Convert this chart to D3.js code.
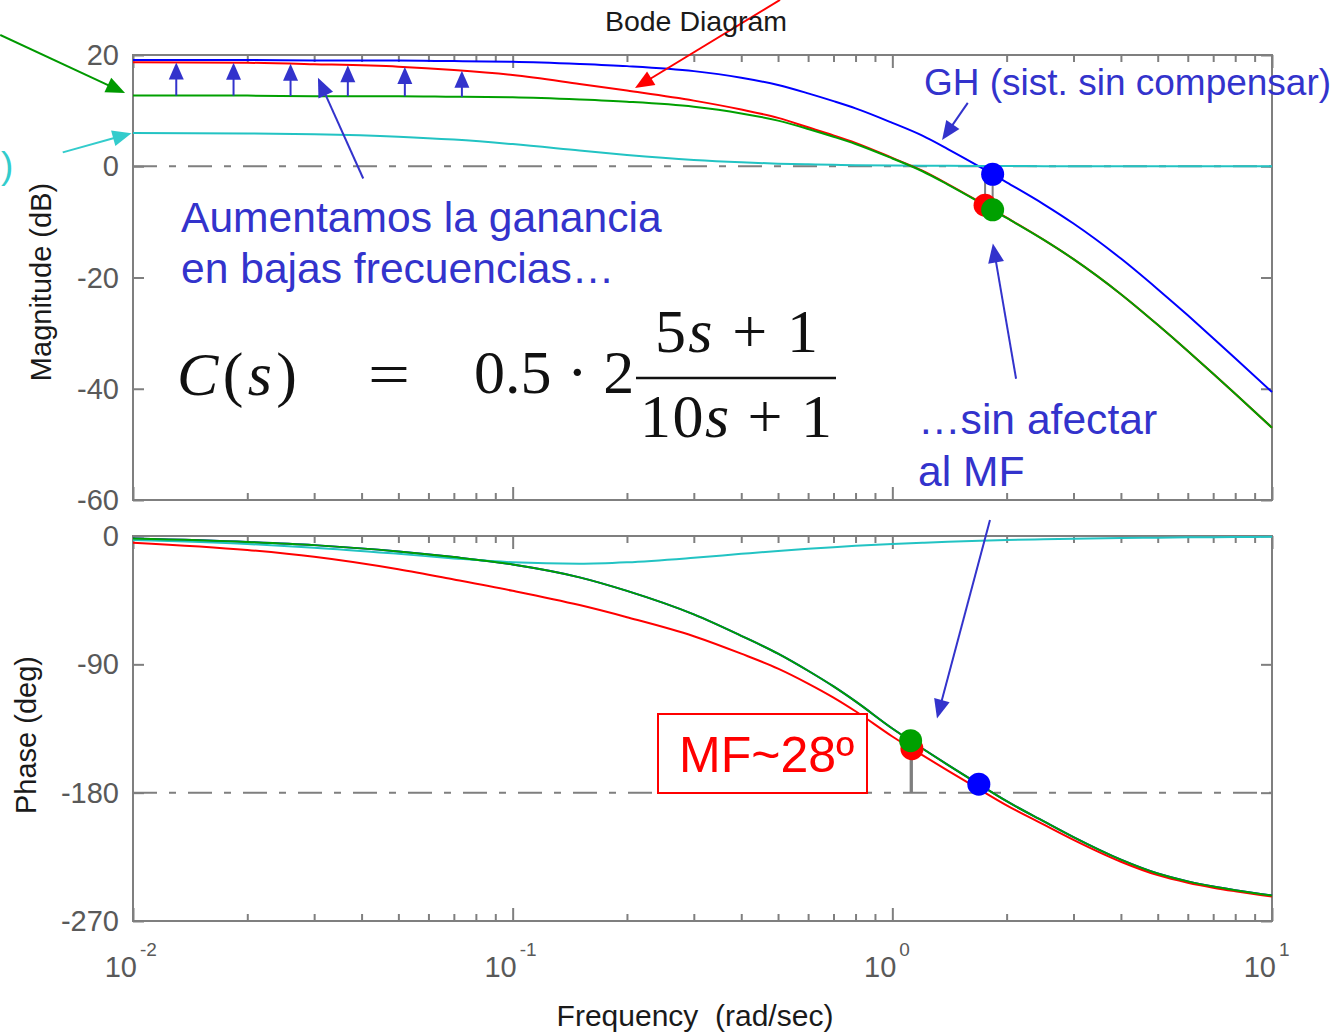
<!DOCTYPE html>
<html>
<head>
<meta charset="utf-8">
<script src="https://cdn.jsdelivr.net/npm/d3@7"></script>
<style>
  html, body { margin: 0; padding: 0; background: #fff; }
  svg { display: block; }
  text { font-family: "Liberation Sans", Arial, Helvetica, sans-serif; }
  .tex { font-family: "Liberation Serif", "Times New Roman", serif; }
</style>
</head>
<body>
<svg id="chart" width="1330" height="1032"></svg>
<script>
// ---- Frequency grid (rad/sec) ----
const freq = [0.01, 0.02, 0.03, 0.05, 0.07, 0.1, 0.15, 0.2, 0.3, 0.4, 0.5, 0.6, 0.7, 0.8,
              1.0, 1.2, 1.4, 1.7, 2.0, 2.5, 3, 4, 5, 6, 7, 8, 10];

// ---- Magnitude (dB) ----
// GH: uncompensated loop
const magGH = [19.1, 19.1, 19.0, 19.0, 18.9, 18.8, 18.4, 18.0, 17.1, 15.9, 14.6, 13.1, 11.7, 10.4,
               7.8, 5.5, 3.1, -0.1, -2.9, -6.8, -10.3, -16.6, -22.1, -26.8, -30.9, -34.5, -40.6];
// 0.5·GH
const magGHhalf = [12.7, 12.7, 12.6, 12.6, 12.5, 12.4, 12.0, 11.6, 10.7, 9.5, 8.2, 6.7, 5.3, 4.0,
                   1.4, -0.9, -3.3, -6.5, -9.3, -13.2, -16.7, -23.0, -28.5, -33.2, -37.3, -40.9, -47.0];
// lag network 2(5s+1)/(10s+1)
const magLag = [5.99, 5.89, 5.75, 5.31, 4.79, 3.98, 2.84, 2.04, 1.14, 0.71, 0.47, 0.34, 0.25, 0.19,
                0.13, 0.09, 0.07, 0.05, 0.03, 0.02, 0.01, 0.01, 0.0, 0.0, 0.0, 0.0, 0.0];
// compensated loop C·GH
const magComp = [18.7, 18.6, 18.35, 17.9, 17.3, 16.4, 14.8, 13.6, 11.8, 10.2, 8.7, 7.0, 5.55, 4.2,
                 1.5, -0.8, -3.2, -6.45, -9.25, -13.2, -16.7, -23.0, -28.5, -33.2, -37.3, -40.9, -47.0];

// ---- Phase (deg) ----
const phaseGH = [-1.8, -4.2, -6.4, -10.8, -14.8, -20.0, -29.0, -38.5, -55.0, -70.0, -82.5, -94.5, -105.5, -116.0,
                 -135.0, -149.0, -160.5, -174.5, -186.0, -200.0, -211.2, -227.0, -236.7, -242.2, -245.8, -248.4, -252.2];
const phaseLag = [-2.85, -5.60, -8.17, -12.53, -15.70, -18.43, -19.44, -18.43, -15.26, -12.53, -10.49, -8.97, -7.82, -6.91,
                  -5.60, -4.70, -4.04, -3.34, -2.85, -2.28, -1.90, -1.43, -1.14, -0.96, -0.82, -0.71, -0.58];
const phaseComp = [-4.65, -9.8, -14.57, -23.33, -30.5, -38.43, -48.44, -56.93, -70.26, -82.53, -92.99, -103.47, -113.32, -122.91,
                   -140.6, -153.7, -164.54, -177.84, -188.85, -202.28, -213.1, -228.43, -237.84, -243.16, -246.62, -249.11, -252.78];

// ---- Axis ticks ----
const magTicks = [20, 0, -20, -40, -60];
const phaseTicks = [0, -90, -180, -270];
const decadeTicks = [0.01, 0.1, 1, 10];
const decadeExp = ["-2", "-1", "0", "1"];

// ---- Annotation anchors (frequency, value) ----
const gainArrowFreq = [0.013, 0.0184, 0.026, 0.0368, 0.052, 0.0735];
const noteGreenArrow = [[0.00447, 23.6], [0.00953, 13.15]];
const noteCyanArrow  = [[0.00653, 2.5], [0.00991, 5.95]];
const noteRedArrow   = [[0.506, 29.9], [0.21, 14.05]];
const noteGainArrow  = [[0.0404, -2.2], [0.0307, 15.9]];
const noteGHArrow    = [[1.58, 11.4], [1.352, 4.7]];
const noteMFMagArrow = [[2.118, -38.2], [1.84, -13.9]];
const noteMFPhArrow  = [[1.808, 11.25], [1.311, -128]];

const COL = { blue: "#0000ff", red: "#ff0000", green: "#00a000", cyan: "#22c3c3",
              note: "#3333cc", frame: "#7f7f7f", tick: "#595959" };

const svg = d3.select("#chart");
const X0 = 133, X1 = 1272;
const x = d3.scaleLog().domain([0.01, 10]).range([X0, X1]);
const yMag = d3.scaleLinear().domain([-60, 20]).range([500, 55]);
const yPh = d3.scaleLinear().domain([-270, 0]).range([921, 536]);

// log-linear helpers over the frequency grid
function valueAt(f, vals) {
  const lf = Math.log10(f);
  for (let i = 0; i < freq.length - 1; i++) {
    const a = Math.log10(freq[i]), b = Math.log10(freq[i + 1]);
    if (lf >= a && lf <= b) return vals[i] + (lf - a) / (b - a) * (vals[i + 1] - vals[i]);
  }
  return lf < Math.log10(freq[0]) ? vals[0] : vals[vals.length - 1];
}
function crossing(vals, level) {
  for (let i = 0; i < vals.length - 1; i++) {
    const u = vals[i] - level, v = vals[i + 1] - level;
    if (u * v <= 0 && vals[i] !== vals[i + 1]) {
      const t = u / (u - v);
      const a = Math.log10(freq[i]), b = Math.log10(freq[i + 1]);
      return Math.pow(10, a + t * (b - a));
    }
  }
  return null;
}

// ---- Frames with inward ticks ----
const minorTicks = [];
[0.01, 0.1, 1].forEach(d => { for (let k = 2; k <= 9; k++) minorTicks.push(d * k); });

function panel(y, yTicks) {
  const [yb, yt] = y.range();
  const g = svg.append("g");
  g.append("rect").attr("x", X0).attr("y", yt).attr("width", X1 - X0).attr("height", yb - yt)
    .attr("fill", "none").attr("stroke", COL.frame).attr("stroke-width", 2);

  const tickStyle = sel => sel.selectAll("line").attr("stroke", COL.frame).attr("stroke-width", 2);
  const strip = sel => { sel.select(".domain").remove(); sel.selectAll("text").remove(); };

  // x ticks: bottom and top edges, inward
  [[d3.axisBottom, yb], [d3.axisTop, yt]].forEach(([ax, yy]) => {
    g.append("g").attr("transform", `translate(0,${yy})`)
      .call(ax(x).tickValues(minorTicks).tickSize(-7).tickFormat(""))
      .call(strip).call(tickStyle);
    g.append("g").attr("transform", `translate(0,${yy})`)
      .call(ax(x).tickValues(decadeTicks).tickSize(-13).tickFormat(""))
      .call(strip).call(tickStyle);
  });
  // y ticks: left and right edges, inward
  g.append("g").attr("transform", `translate(${X0},0)`)
    .call(d3.axisLeft(y).tickValues(yTicks).tickSize(-11).tickFormat(""))
    .call(strip).call(tickStyle);
  g.append("g").attr("transform", `translate(${X1},0)`)
    .call(d3.axisRight(y).tickValues(yTicks).tickSize(-11).tickFormat(""))
    .call(strip).call(tickStyle);

  // y tick labels
  g.selectAll("text.ylab").data(yTicks).join("text")
    .attr("class", "ylab")
    .attr("x", X0 - 14).attr("y", d => y(d) + 10)
    .attr("text-anchor", "end").attr("font-size", 29).attr("fill", COL.tick)
    .text(d => String(d));
  return g;
}
panel(yMag, magTicks);
panel(yPh, phaseTicks);

// decade labels 10^k under the phase panel
const xl = svg.append("g");
decadeTicks.forEach((d, i) => {
  xl.append("text").attr("x", x(d) + 4).attr("y", 977).attr("text-anchor", "end")
    .attr("font-size", 29).attr("fill", COL.tick).text("10");
  xl.append("text").attr("x", x(d) + 7).attr("y", 956).attr("text-anchor", "start")
    .attr("font-size", 19).attr("fill", COL.tick).text(decadeExp[i]);
});

// ---- Reference lines (0 dB, -180 deg) ----
svg.append("line").attr("x1", X0).attr("x2", X1).attr("y1", yMag(0)).attr("y2", yMag(0))
  .attr("stroke", COL.frame).attr("stroke-width", 2).attr("stroke-dasharray", "24,12,7,12");
svg.append("line").attr("x1", X0).attr("x2", X1).attr("y1", yPh(-180)).attr("y2", yPh(-180))
  .attr("stroke", COL.frame).attr("stroke-width", 2).attr("stroke-dasharray", "24,12,7,12");

// ---- Curves ----
function curve(vals, y, color) {
  const line = d3.line().x((d, i) => x(freq[i])).y(d => y(d)).curve(d3.curveMonotoneX);
  svg.append("path").attr("d", line(vals)).attr("fill", "none")
    .attr("stroke", color).attr("stroke-width", 2);
}
curve(magGH, yMag, COL.blue);
curve(magLag, yMag, COL.cyan);
curve(magComp, yMag, COL.red);
curve(magGHhalf, yMag, COL.green);

curve(phaseGH, yPh, COL.blue);
curve(phaseLag, yPh, COL.cyan);
curve(phaseComp, yPh, COL.red);
curve(phaseGH, yPh, COL.green);

// ---- Stability margins (gain margin on magnitude, phase margin on phase) ----
const loops = [
  { mag: magGH, ph: phaseGH, color: COL.blue },
  { mag: magComp, ph: phaseComp, color: COL.red },
  { mag: magGHhalf, ph: phaseGH, color: COL.green }
];
loops.forEach(L => {
  L.wpc = crossing(L.ph, -180);
  L.wgc = crossing(L.mag, 0);
  L.gm = valueAt(L.wpc, L.mag);
  L.pm = valueAt(L.wgc, L.ph);
});
loops.forEach(L => {
  svg.append("line").attr("x1", x(L.wpc)).attr("x2", x(L.wpc))
    .attr("y1", yMag(0)).attr("y2", yMag(L.gm)).attr("stroke", COL.frame).attr("stroke-width", 2);
  svg.append("line").attr("x1", x(L.wgc)).attr("x2", x(L.wgc))
    .attr("y1", yPh(-180)).attr("y2", yPh(L.pm)).attr("stroke", COL.frame).attr("stroke-width", 2);
});
loops.forEach(L => {
  svg.append("circle").attr("cx", x(L.wpc)).attr("cy", yMag(L.gm)).attr("r", 11.5).attr("fill", L.color);
  svg.append("circle").attr("cx", x(L.wgc)).attr("cy", yPh(L.pm)).attr("r", 11.5).attr("fill", L.color);
});

// ---- Annotation arrows ----
function arrow(p, q, color, head = 19, half = 8, width = 2) {
  const dx = q[0] - p[0], dy = q[1] - p[1], len = Math.hypot(dx, dy);
  const ux = dx / len, uy = dy / len;
  const bx = q[0] - ux * head, by = q[1] - uy * head;
  svg.append("line").attr("x1", p[0]).attr("y1", p[1]).attr("x2", bx + ux * 2).attr("y2", by + uy * 2)
    .attr("stroke", color).attr("stroke-width", width);
  svg.append("polygon")
    .attr("points", [[q[0], q[1]], [bx - uy * half, by + ux * half], [bx + uy * half, by - ux * half]]
      .map(d => d.join(",")).join(" "))
    .attr("fill", color);
}
const magPt = d => [x(d[0]), yMag(d[1])];
const phPt = d => [x(d[0]), yPh(d[1])];

gainArrowFreq.forEach(f => {
  arrow([x(f), yMag(valueAt(f, magGHhalf))], [x(f), yMag(valueAt(f, magComp))], COL.note, 17, 7.5, 2);
});
arrow(magPt(noteGreenArrow[0]), magPt(noteGreenArrow[1]), "#009900", 19, 8);
arrow(magPt(noteCyanArrow[0]), magPt(noteCyanArrow[1]), "#33cccc", 19, 8);
arrow(magPt(noteRedArrow[0]), magPt(noteRedArrow[1]), COL.red, 19, 8);
arrow(magPt(noteGainArrow[0]), magPt(noteGainArrow[1]), COL.note, 19, 8);
arrow(magPt(noteGHArrow[0]), magPt(noteGHArrow[1]), COL.note, 19, 8);
arrow(magPt(noteMFMagArrow[0]), magPt(noteMFMagArrow[1]), COL.note, 19, 8);
arrow(phPt(noteMFPhArrow[0]), phPt(noteMFPhArrow[1]), COL.note, 19, 8);

// ---- Titles and axis labels ----
svg.append("text").attr("x", 696).attr("y", 31).attr("text-anchor", "middle")
  .attr("font-size", 28.5).attr("fill", "#1a1a1a").text("Bode Diagram");
svg.append("text").attr("transform", "translate(51,282) rotate(-90)").attr("text-anchor", "middle")
  .attr("font-size", 29).attr("fill", "#1a1a1a").text("Magnitude (dB)");
svg.append("text").attr("transform", "translate(36,735) rotate(-90)").attr("text-anchor", "middle")
  .attr("font-size", 29).attr("fill", "#1a1a1a").text("Phase (deg)");
svg.append("text").attr("x", 695).attr("y", 1026).attr("text-anchor", "middle")
  .attr("font-size", 30).attr("fill", "#1a1a1a").attr("xml:space", "preserve")
  .style("white-space", "pre").text("Frequency  (rad/sec)");

// ---- Explanatory notes ----
const note = (t, xx, yy, size, color) =>
  svg.append("text").attr("x", xx).attr("y", yy).attr("font-size", size).attr("fill", color).text(t);
note("Aumentamos la ganancia", 181, 232, 42.6, COL.note);
note("en bajas frecuencias\u2026", 181, 283, 42.6, COL.note);
note("GH (sist. sin compensar)", 924, 95, 37, COL.note);
note("\u2026sin afectar", 918, 434, 42.6, COL.note);
note("al MF", 918, 486, 42.6, COL.note);
note(")", 1, 178, 37, "#33cccc");

// phase-margin callout
svg.append("rect").attr("x", 658).attr("y", 714).attr("width", 209).attr("height", 79)
  .attr("fill", "#fff").attr("stroke", COL.red).attr("stroke-width", 2);
note("MF~28\u00ba", 679, 772, 50, COL.red);

// compensator formula
const tex = svg.append("g").attr("class", "tex").attr("fill", "#111");
const eq = tex.append("text").attr("class", "tex").attr("x", 177).attr("y", 395).attr("font-size", 62)
  .attr("textLength", 120).attr("lengthAdjust", "spacing");
eq.append("tspan").attr("font-style", "italic").text("C");
eq.append("tspan").text("(");
eq.append("tspan").attr("font-style", "italic").text("s");
eq.append("tspan").text(")");
tex.append("text").attr("class", "tex").attr("x", 368).attr("y", 395).attr("font-size", 62)
  .attr("textLength", 42).attr("lengthAdjust", "spacingAndGlyphs").text("=");
tex.append("text").attr("class", "tex").attr("x", 474).attr("y", 393).attr("font-size", 62).text("0.5 \u00b7 2");
const num = tex.append("text").attr("class", "tex").attr("x", 655).attr("y", 352).attr("font-size", 62)
  .attr("textLength", 163).attr("lengthAdjust", "spacing");
num.append("tspan").text("5");
num.append("tspan").attr("font-style", "italic").text("s");
num.append("tspan").text(" + 1");
tex.append("line").attr("x1", 636).attr("x2", 836).attr("y1", 378).attr("y2", 378)
  .attr("stroke", "#111").attr("stroke-width", 2.5);
const den = tex.append("text").attr("class", "tex").attr("x", 640).attr("y", 437).attr("font-size", 62)
  .attr("textLength", 192).attr("lengthAdjust", "spacing");
den.append("tspan").text("10");
den.append("tspan").attr("font-style", "italic").text("s");
den.append("tspan").text(" + 1");
</script>
</body>
</html>
